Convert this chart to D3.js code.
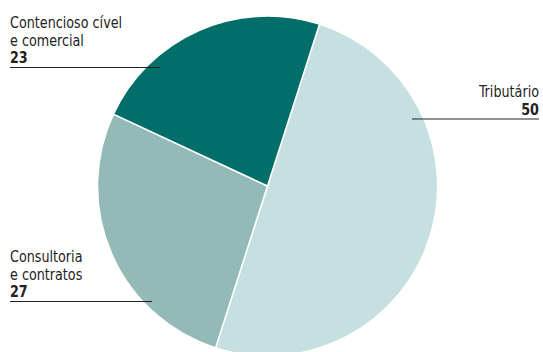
<!DOCTYPE html>
<html>
<head>
<meta charset="utf-8">
<script src="https://cdn.jsdelivr.net/npm/d3@7"></script>
<style>
html,body{margin:0;padding:0;background:#fff;}
svg{display:block;}
text{font-family:"DejaVu Sans Condensed","Liberation Sans Narrow",sans-serif;fill:#222;}
</style>
</head>
<body>
<svg id="chart" width="543" height="352"></svg>
<script>
const categories = ["Tributário", "Consultoria e contratos", "Contencioso cível e comercial"];
const values = [50, 27, 23];
const colors = ["#c6dfe0", "#94bab8", "#016e6a"];
const labelLines = [["Tributário"], ["Consultoria", "e contratos"], ["Contencioso cível", "e comercial"]];

const svg = d3.select("#chart");
const cx = 267.5, cy = 186, r = 170;
const startA = 17.8 * Math.PI / 180;

const pie = d3.pie().sort(null).value(d => d.v)
  .startAngle(startA).endAngle(startA + 2 * Math.PI);
const data = categories.map((c, i) => ({c, v: values[i], col: colors[i], lines: labelLines[i]}));
const arcs = pie(data);
const arc = d3.arc().innerRadius(0).outerRadius(r);

const g = svg.append("g").attr("transform", `translate(${cx},${cy})`);
g.selectAll("path").data(arcs).join("path")
  .attr("d", arc)
  .attr("fill", d => d.data.col)
  .attr("stroke", "#fff")
  .attr("stroke-width", 1.5)
  .attr("stroke-linejoin", "round");

const layout = [
  {anchor: "end", x: 539, y: 97, lx1: 412, lx2: 539},
  {anchor: "start", x: 10, y: 262, lx1: 10, lx2: 152},
  {anchor: "start", x: 10, y: 28, lx1: 10, lx2: 160}
];
const lh = 17.5;
const sx = 0.86;
function addText(parent, x, y, anchor, size, weight, str) {
  parent.append("text")
    .attr("transform", `translate(${x},${y}) scale(${sx},1)`)
    .attr("text-anchor", anchor).attr("font-size", size)
    .attr("font-weight", weight).text(str);
}
arcs.forEach((a, i) => {
  const L = layout[i];
  const t = svg.append("g");
  a.data.lines.forEach((ln, j) => addText(t, L.x, L.y + j * lh, L.anchor, 16.5, "normal", ln));
  const ny = L.y + a.data.lines.length * lh;
  addText(t, L.x, ny, L.anchor, 16.5, "bold", a.data.v);
  svg.append("line").attr("x1", L.lx1).attr("x2", L.lx2)
    .attr("y1", ny + 4.5).attr("y2", ny + 4.5)
    .attr("stroke", "#222").attr("stroke-width", 1.2);
});
</script>
</body>
</html>
